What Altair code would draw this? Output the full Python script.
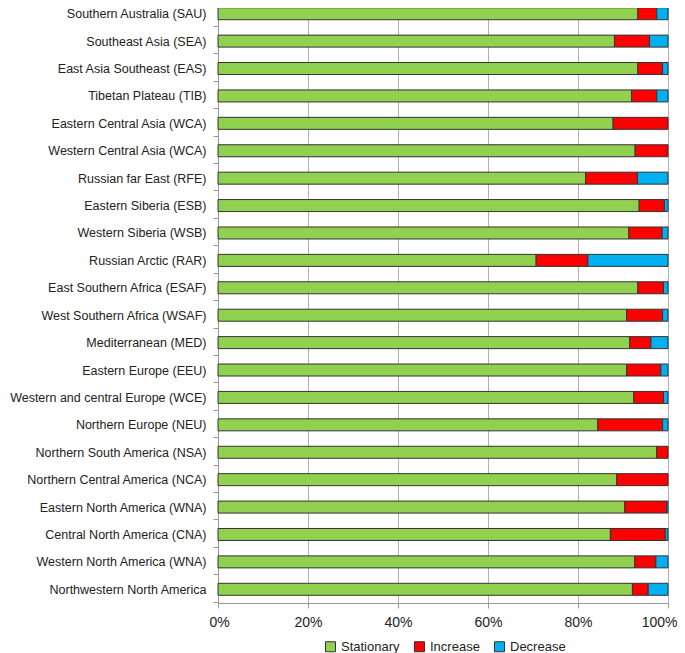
import altair as alt
import pandas as pd

regions = [
    "Southern Australia (SAU)",
    "Southeast Asia  (SEA)",
    "East Asia Southeast  (EAS)",
    "Tibetan Plateau (TIB)",
    "Eastern Central Asia (WCA)",
    "Western Central Asia (WCA)",
    "Russian far East (RFE)",
    "Eastern Siberia (ESB)",
    "Western Siberia (WSB)",
    "Russian Arctic (RAR)",
    "East Southern Africa (ESAF)",
    "West Southern Africa (WSAF)",
    "Mediterranean (MED)",
    "Eastern Europe (EEU)",
    "Western and central Europe (WCE)",
    "Northern Europe (NEU)",
    "Northern South America (NSA)",
    "Northern Central America (NCA)",
    "Eastern North America (WNA)",
    "Central North America (CNA)",
    "Western North America (WNA)",
    "Northwestern North America",
]
stationary = [93.3, 88.1, 93.3, 91.9, 87.8, 92.7, 81.7, 93.6, 91.3, 70.7, 93.3,
              90.8, 91.5, 90.8, 92.4, 84.4, 97.5, 88.6, 90.4, 87.2, 92.6, 92.1]
increase = [4.2, 7.8, 5.5, 5.6, 12.2, 7.3, 11.5, 5.6, 7.4, 11.5, 5.7,
            8.0, 4.7, 7.6, 6.6, 14.4, 2.5, 11.4, 9.3, 12.2, 4.7, 3.5]
decrease = [2.5, 4.1, 1.2, 2.5, 0.0, 0.0, 6.8, 0.8, 1.3, 17.8, 1.0,
            1.2, 3.8, 1.6, 1.0, 1.2, 0.0, 0.0, 0.3, 0.6, 2.7, 4.4]
series = ["Stationary", "Increase", "Decrease"]
colors = ["#92D050", "#FF0000", "#00B0F0"]

rows = []
for i, r in enumerate(regions):
    for k, (s, vals) in enumerate(zip(series, [stationary, increase, decrease])):
        rows.append({"region": r, "series": s, "order": k, "value": vals[i]})
df = pd.DataFrame(rows)

FONT = "Liberation Sans"

chart = alt.Chart(df).transform_filter(
    alt.datum.value > 0
).mark_bar(stroke="#333333", strokeWidth=1, size=12).encode(
    y=alt.Y("region:N", sort=regions, title=None,
            axis=alt.Axis(labelFontSize=12.5, labelColor="#222222", labelFont=FONT,
                          labelPadding=7, tickBand="extent", tickSize=5,
                          tickColor="#999999", domainColor="#999999",
                          labelLimit=260)),
    x=alt.X("value:Q", stack="normalize", title=None,
            scale=alt.Scale(domain=[0, 1], nice=False),
            axis=alt.Axis(format="%", values=[0, 0.2, 0.4, 0.6, 0.8, 1.0],
                          labelFontSize=14, labelColor="#222222", labelFont=FONT,
                          labelPadding=7, tickSize=5, tickColor="#999999",
                          domainColor="#999999", grid=True, gridColor="#b0b0b0",
                          labelFlush=True, labelFlushOffset=9)),
    color=alt.Color("series:N", sort=series,
                    scale=alt.Scale(domain=series, range=colors),
                    legend=alt.Legend(title=None, orient="none", direction="horizontal",
                                      legendX=106, legendY=640, symbolType="square",
                                      symbolSize=100, symbolStrokeColor="#333333",
                                      symbolStrokeWidth=1, labelFontSize=13,
                                      labelFont=FONT, labelColor="#222222",
                                      columnPadding=12, labelOffset=4)),
    order=alt.Order("order:Q"),
).properties(
    width=450, height=603,
    padding={"left": 210, "top": -8, "right": 9, "bottom": 50},
    autosize=alt.AutoSizeParams(type="none"),
).configure_view(stroke=None)

chart.save("out.html", embed_options={"renderer": "svg", "actions": False})
